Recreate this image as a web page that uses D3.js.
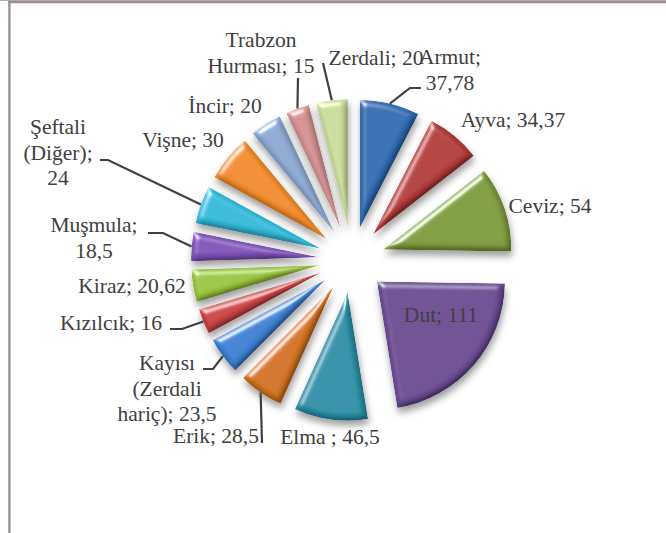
<!DOCTYPE html>
<html>
<head>
<meta charset="utf-8">
<script src="https://cdn.jsdelivr.net/npm/d3@7"></script>
<style>
  body { margin: 0; background: #fff; }
  text { font-family: "Liberation Serif", "Times New Roman", "DejaVu Serif", serif; font-size: 21.5px; fill: #404040; }
</style>
</head>
<body>
<script>
// data, clockwise from 12 o'clock
const categories = ["Armut", "Ayva", "Ceviz", "Dut", "Elma ", "Erik", "Kayısı (Zerdali hariç)",
  "Kızılcık", "Kiraz", "Muşmula", "Şeftali (Diğer)", "Vişne", "İncir", "Trabzon Hurması", "Zerdali"];
const values = [37.78, 34.37, 54, 111, 46.5, 28.5, 23.5, 16, 20.62, 18.5, 24, 30, 20, 15, 20];
const colors = ["#2f6cb1", "#b33c38", "#7f9d3c", "#6b4c93", "#2b91a8", "#d2731f", "#3d82d4",
  "#cc4343", "#9cc53f", "#8053b9", "#31bad9", "#f38c2a", "#8eaad3", "#d49293", "#c9dc9b"];

// label layout: [centre x, first baseline, wrap width]
const labelPos = [[450, 64, 70], [513, 127, 999], [550, 213, 999], [441, 322, 999], [330, 444, 999],
  [216, 443, 999], [167, 370, 105], [111, 330, 999], [132, 293, 999], [94, 232, 95],
  [58, 134, 80], [183, 147, 999], [225, 113, 999], [261, 47, 120], [376, 65, 999]];
// leader elbows (null = no leader)
const leaders = [[[410, 88], [421, 88]], null, null, null, null, [[262, 443]], [[213, 369], [203, 369]],
  [[182, 329], [170, 329]], null, [[163, 233], [148, 233]], [[108, 160], [100, 160]], null, null,
  [[298, 78]], [[323, 63]]];

const W = 666, H = 533;
const cx = 352, cy = 260, R = 128, explode = 33, lineH = 25.5;

const svg = d3.select("body").append("svg")
  .attr("width", W).attr("height", H);

// bevel + shadow filter
const defs = svg.append("defs");
const f = defs.append("filter").attr("id", "bevel")
  .attr("x", "-20%").attr("y", "-20%").attr("width", "140%").attr("height", "150%");
f.append("feGaussianBlur").attr("in", "SourceAlpha").attr("stdDeviation", 3).attr("result", "blur");
f.append("feDiffuseLighting").attr("in", "blur").attr("surfaceScale", 4)
  .attr("diffuseConstant", 1.12).attr("lighting-color", "#fff").attr("result", "diff")
  .append("feDistantLight").attr("azimuth", 235).attr("elevation", 62);
f.append("feComposite").attr("in", "SourceGraphic").attr("in2", "diff")
  .attr("operator", "arithmetic").attr("k1", 1).attr("k2", 0).attr("k3", 0).attr("k4", 0).attr("result", "shade");
f.append("feSpecularLighting").attr("in", "blur").attr("surfaceScale", 4)
  .attr("specularConstant", 0.7).attr("specularExponent", 30).attr("lighting-color", "#fff").attr("result", "spec")
  .append("feDistantLight").attr("azimuth", 235).attr("elevation", 35);
f.append("feComposite").attr("in", "spec").attr("in2", "SourceAlpha").attr("operator", "in").attr("result", "specIn");
f.append("feComposite").attr("in", "shade").attr("in2", "specIn")
  .attr("operator", "arithmetic").attr("k1", 0).attr("k2", 1).attr("k3", 1).attr("k4", 0).attr("result", "lit");
f.append("feComposite").attr("in", "lit").attr("in2", "SourceAlpha").attr("operator", "in").attr("result", "litIn");
f.append("feGaussianBlur").attr("in", "SourceAlpha").attr("stdDeviation", 3.5).attr("result", "sblur");
f.append("feOffset").attr("in", "sblur").attr("dx", 1).attr("dy", 5).attr("result", "soff");
f.append("feFlood").attr("flood-color", "#000").attr("flood-opacity", 0.38).attr("result", "sc");
f.append("feComposite").attr("in", "sc").attr("in2", "soff").attr("operator", "in").attr("result", "shadow");
const m = f.append("feMerge");
m.append("feMergeNode").attr("in", "shadow");
m.append("feMergeNode").attr("in", "litIn");

// frame
svg.append("line").attr("x1", 0).attr("x2", W).attr("y1", 0.5).attr("y2", 0.5)
  .attr("stroke", "#b5adab").attr("stroke-width", 1);
svg.append("line").attr("x1", 8).attr("x2", W).attr("y1", 2.2).attr("y2", 2.2)
  .attr("stroke", "#9a8f8c").attr("stroke-width", 2.2);
svg.append("line").attr("x1", 9.4).attr("x2", 9.4).attr("y1", 2).attr("y2", H)
  .attr("stroke", "#a09593").attr("stroke-width", 2.4);

const pie = d3.pie().sort(null).value(d => d)(values);
const arc = d3.arc().innerRadius(0).outerRadius(R);

const g = svg.append("g").attr("transform", `translate(${cx},${cy})`);

const mid = d => (d.startAngle + d.endAngle) / 2;
const off = d => [Math.sin(mid(d)) * explode, -Math.cos(mid(d)) * explode];

g.selectAll("path.slice")
  .data(pie)
  .enter().append("path")
  .attr("class", "slice")
  .attr("transform", d => `translate(${off(d)})`)
  .attr("d", arc)
  .attr("fill", (d, i) => colors[i])
  .attr("filter", "url(#bevel)");

// leader lines
pie.forEach((d, i) => {
  if (!leaders[i]) return;
  const a = mid(d), o = off(d);
  const start = [cx + o[0] + Math.sin(a) * R, cy + o[1] - Math.cos(a) * R];
  svg.append("path")
    .attr("d", d3.line()([start, ...leaders[i]]))
    .attr("fill", "none").attr("stroke", "#404040").attr("stroke-width", 2.2);
});

// labels
const fmt = v => String(v).replace(".", ",");
pie.forEach((d, i) => {
  const [x, y, wrap] = labelPos[i];
  const words = `${categories[i].trim() === "Elma" ? "Elma ;" : categories[i] + ";"} ${fmt(values[i])}`.split(" ");
  const t = svg.append("text").attr("text-anchor", "middle")
    .attr("font-family", "Liberation Serif, DejaVu Serif, serif");
  let lines = [], cur = "";
  const probe = svg.append("text").attr("visibility", "hidden")
    .attr("font-family", "Liberation Serif, DejaVu Serif, serif");
  words.forEach(w => {
    const test = cur ? cur + " " + w : w;
    probe.text(test);
    if (cur && probe.node().getComputedTextLength() > wrap) { lines.push(cur); cur = w; }
    else cur = test;
  });
  lines.push(cur);
  probe.remove();
  lines.forEach((l, k) => t.append("tspan").attr("x", x).attr("y", y + k * lineH).text(l));
});
</script>
</body>
</html>
